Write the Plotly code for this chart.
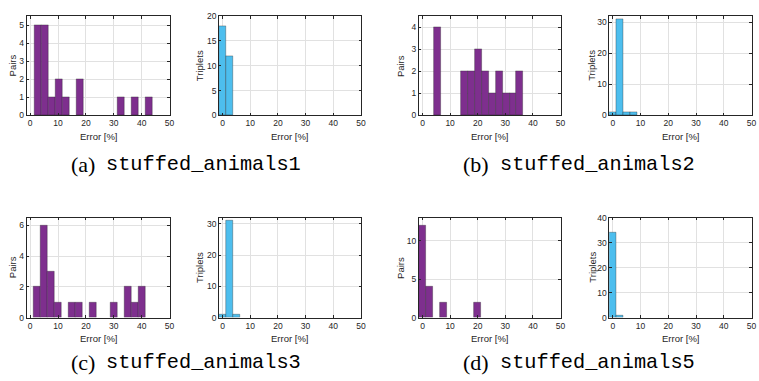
import plotly.graph_objects as go

W, H = 759, 381
BIN_W = 2.5

# ---- data: histogram counts on uniform 2.5 %-wide bins, with first bin's left edge ----
a_pairs_start = 1.5
a_pairs_counts = [5, 5, 1, 2, 1, 0, 2, 0, 0, 0, 0, 0, 1, 0, 1, 0, 1]
a_trip_start = -1.25
a_trip_counts = [18, 12]

b_pairs_start = 4.0
b_pairs_counts = [4, 0, 0, 0, 2, 2, 3, 2, 1, 2, 1, 1, 2]
b_trip_start = -1.25
b_trip_counts = [1, 31, 1, 1]

c_pairs_start = 1.3
c_pairs_counts = [2, 6, 3, 1, 0, 1, 1, 0, 1, 0, 0, 1, 0, 2, 1, 2]
c_trip_start = -1.25
c_trip_counts = [1, 31, 1]

d_pairs_start = -1.25
d_pairs_counts = [12, 4, 0, 2, 0, 0, 0, 0, 2]
d_trip_start = -1.25
d_trip_counts = [34, 1]

x_ticks = [0, 10, 20, 30, 40, 50]
captions = ["(a)", "(b)", "(c)", "(d)"]
names = ["stuffed_animals1", "stuffed_animals2", "stuffed_animals3", "stuffed_animals5"]

PURPLE = "#7E2F8E"
BLUE = "#4DBEEE"
TXT = "#262626"
TICK_FONT = dict(family="Liberation Sans, Arial, sans-serif", size=8.5, color=TXT)

# panel layout in pixels: (left, right, top, bottom)
rows = [(11.5, 113.3), (218.3, 321.0)]
cols = [(26.7, 170.7), (220.5, 363.3), (421.7, 564.3), (613.3, 756.5)]

panels = [
    # (row, col, start, counts, color, ytitle, yrange, dtick)
    (0, 0, a_pairs_start, a_pairs_counts, PURPLE, "Pairs", 5.5, 1),
    (0, 1, a_trip_start, a_trip_counts, BLUE, "Triplets", 20, 5),
    (0, 2, b_pairs_start, b_pairs_counts, PURPLE, "Pairs", 4.5, 1),
    (0, 3, b_trip_start, b_trip_counts, BLUE, "Triplets", 32, 10),
    (1, 0, c_pairs_start, c_pairs_counts, PURPLE, "Pairs", 6.5, 2),
    (1, 1, c_trip_start, c_trip_counts, BLUE, "Triplets", 32, 10),
    (1, 2, d_pairs_start, d_pairs_counts, PURPLE, "Pairs", 13, 5),
    (1, 3, d_trip_start, d_trip_counts, BLUE, "Triplets", 40, 10),
]

ytitle_x = [12.7, 200.7, 403.0, 596.0]

fig = go.Figure()
annotations = []
layout = {}

for i, (r, c, start, counts, color, ytitle, ymax, dtick) in enumerate(panels):
    n = i + 1
    xa = "x" if n == 1 else f"x{n}"
    ya = "y" if n == 1 else f"y{n}"
    xs, ys = [], []
    for k, v in enumerate(counts):
        if v > 0:
            xs.append(start + BIN_W * (k + 0.5))
            ys.append(v)
    fig.add_trace(go.Bar(
        x=xs, y=ys, width=BIN_W, xaxis=xa, yaxis=ya,
        marker=dict(color=color, line=dict(color="rgba(30,30,30,0.55)", width=0.6)),
        showlegend=False, hoverinfo="skip",
    ))
    top, bot = rows[r]
    left, right = cols[c]
    axis_common = dict(
        showline=True, linecolor=TXT, linewidth=0.8, mirror="ticks",
        ticks="inside", ticklen=2.5, tickwidth=0.8, tickcolor=TXT,
        showgrid=True, gridcolor="#E1E1E1", gridwidth=0.8,
        zeroline=False, tickfont=TICK_FONT,
    )
    xkey = "xaxis" if n == 1 else f"xaxis{n}"
    ykey = "yaxis" if n == 1 else f"yaxis{n}"
    layout[xkey] = dict(
        domain=[left / W, right / W], anchor=ya, range=[-1.3, 50],
        tickmode="array", tickvals=x_ticks, ticklabeloverflow="allow",
        **axis_common,
    )
    layout[ykey] = dict(
        domain=[1 - bot / H, 1 - top / H], anchor=xa, range=[0, ymax],
        dtick=dtick, tick0=0, **axis_common,
    )
    # axis titles
    annotations.append(dict(
        text="Error [%]", xref="paper", yref="paper",
        x=((left + right) / 2) / W, y=1 - (bot + 22) / H,
        xanchor="center", yanchor="middle", showarrow=False,
        font=dict(family="Liberation Sans, Arial, sans-serif", size=9.5, color=TXT),
    ))
    annotations.append(dict(
        text=ytitle, xref="paper", yref="paper",
        x=ytitle_x[c] / W, y=1 - ((top + bot) / 2) / H,
        xanchor="center", yanchor="middle", showarrow=False, textangle=-90,
        font=dict(family="Liberation Sans, Arial, sans-serif", size=9.5, color=TXT),
    ))

cap_y = [164, 367]
cap_right = [98, 494]
for j in range(4):
    r = j // 2
    cc = j % 2
    annotations.append(dict(
        text=captions[j], xref="paper", yref="paper",
        x=cap_right[cc] / W, y=1 - cap_y[r] / H,
        xanchor="right", yanchor="middle", showarrow=False,
        font=dict(family="Liberation Serif, DejaVu Serif, serif", size=22, color="#000000"),
    ))
    annotations.append(dict(
        text=names[j], xref="paper", yref="paper",
        x=(cap_right[cc] + 7) / W, y=1 - cap_y[r] / H,
        xanchor="left", yanchor="middle", showarrow=False,
        font=dict(family="Liberation Mono, DejaVu Sans Mono, monospace", size=20.3, color="#000000"),
    ))

fig.update_layout(
    width=W, height=H,
    margin=dict(l=0, r=0, t=0, b=0),
    paper_bgcolor="white", plot_bgcolor="white",
    bargap=0,
    annotations=annotations,
    **layout,
)

# remove the page's default body margin so the figure sits at the window origin
fig.write_html(
    "out.html",
    config={"displayModeBar": False},
    post_script="document.body.style.margin='0';document.body.style.overflow='hidden';",
)
